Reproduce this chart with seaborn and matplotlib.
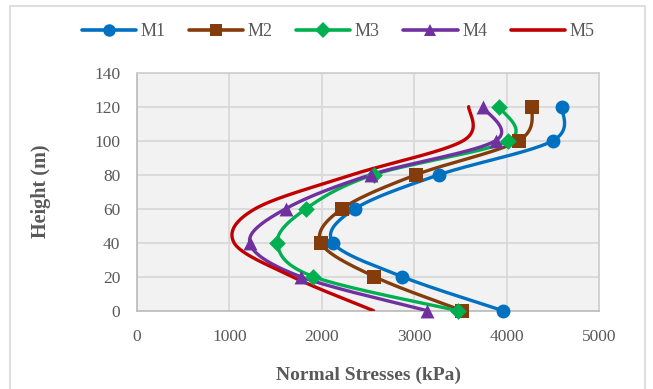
import numpy as np
import pandas as pd
import matplotlib
matplotlib.use("Agg")
import matplotlib.pyplot as plt
from matplotlib.lines import Line2D
from matplotlib.patches import Rectangle
import seaborn as sns

# ---- data ----
heights = [0, 20, 40, 60, 80, 100, 120]
m1 = [3960, 2870, 2120, 2360, 3270, 4500, 4600]
m2 = [3520, 2570, 1990, 2220, 3020, 4130, 4280]
m3 = [3470, 1910, 1520, 1830, 2560, 4020, 3920]
m4 = [3140, 1770, 1220, 1610, 2530, 3880, 3740]
m5 = [2560, 1680, 1050, 1280, 2330, 3530, 3590]
series_names = ["M1", "M2", "M3", "M4", "M5"]
x_ticks = [0, 1000, 2000, 3000, 4000, 5000]
y_ticks = [0, 20, 40, 60, 80, 100, 120, 140]

colors = ["#0070C0", "#843C0C", "#00B050", "#7030A0", "#C00000"]
markers = ["o", "s", "D", "^", None]
msizes = [10, 10, 8.5, 10, 0]

sns.set_style("white")
plt.rcParams["font.family"] = ["Liberation Serif", "DejaVu Serif"]

W, H = 653, 389
fig = plt.figure(figsize=(W / 100, H / 100), dpi=100)
left, right, top, bottom = 137, 599, 72.7, 310.7
ax = fig.add_axes([left / W, 1 - bottom / H, (right - left) / W, (bottom - top) / H])
ax.set_facecolor("#F2F2F2")

xmax, ymax = 5000, 140
sx = (right - left) / xmax          # pixels per data unit (x)
sy = (bottom - top) / ymax          # pixels per data unit (y)


def smooth(xs, ys, n=40):
    """Excel-like smoothed line (Catmull-Rom Bezier) computed in screen space."""
    P = np.column_stack([np.asarray(xs, float) * sx, np.asarray(ys, float) * sy])
    out = []
    for i in range(len(P) - 1):
        p0 = P[i - 1] if i > 0 else P[i]
        p1, p2 = P[i], P[i + 1]
        p3 = P[i + 2] if i + 2 < len(P) else P[i + 1]
        c1 = p1 + (p2 - p0) / 6.0
        c2 = p2 - (p3 - p1) / 6.0
        t = np.linspace(0, 1, n)[:, None]
        seg = ((1 - t) ** 3) * p1 + 3 * ((1 - t) ** 2) * t * c1 + 3 * (1 - t) * t ** 2 * c2 + t ** 3 * p2
        out.append(seg if i == 0 else seg[1:])
    out = np.vstack(out)
    return out[:, 0] / sx, out[:, 1] / sy


all_series = [m1, m2, m3, m4, m5]
handles = []
for k in range(5):
    vals = all_series[k]
    cx, cy = smooth(vals, heights)
    df = pd.DataFrame({"x": cx, "y": cy})
    sns.lineplot(data=df, x="x", y="y", sort=False, estimator=None, ax=ax,
                 color=colors[k], linewidth=2.4, zorder=3 + k * 0.1)
    if markers[k] is not None:
        pdf = pd.DataFrame({"x": vals, "y": heights})
        sns.scatterplot(data=pdf, x="x", y="y", ax=ax, marker=markers[k],
                        color=colors[k], s=msizes[k] ** 2, linewidth=0,
                        zorder=4 + k * 0.1, clip_on=False)
    handles.append(Line2D([0], [0], color=colors[k], linewidth=2.6,
                          marker=markers[k] if markers[k] else None,
                          markersize=msizes[k] * 0.9, markeredgewidth=0))

ax.set_xlim(0, xmax)
ax.set_ylim(0, ymax)
ax.set_xticks(x_ticks)
ax.set_yticks(y_ticks)
ax.grid(True, color="#D9D9D9", linewidth=1.3)
ax.set_axisbelow(True)
for sp in ax.spines.values():
    sp.set_color("#D0D0D0")
    sp.set_linewidth(1.3)
ax.spines["bottom"].set_color("#BFBFBF")
ax.spines["left"].set_color("#BFBFBF")
ax.tick_params(axis="both", length=0, labelsize=12.5, labelcolor="#595959")
ax.tick_params(axis="x", pad=13)
ax.tick_params(axis="y", pad=12)

ax.set_xlabel("Normal Stresses (kPa)", fontsize=14, fontweight="bold",
              color="#595959", labelpad=16)
ax.set_ylabel("Height (m)", fontsize=14.5, fontweight="bold",
              color="#595959", labelpad=31)

fig.legend(handles=handles, labels=series_names, loc="center", ncol=5,
           bbox_to_anchor=(338 / W, 1 - 32 / H), frameon=False,
           fontsize=13, handlelength=3.0, handletextpad=0.25,
           columnspacing=1.3, labelcolor="#595959")

# outer chart border
fig.patches.append(Rectangle((10 / W, -0.05), (645 - 10) / W, 1.05 - 6 / H,
                             transform=fig.transFigure, fill=False,
                             edgecolor="#D9D9D9", linewidth=1.2))

fig.savefig("out.png", dpi=100)
